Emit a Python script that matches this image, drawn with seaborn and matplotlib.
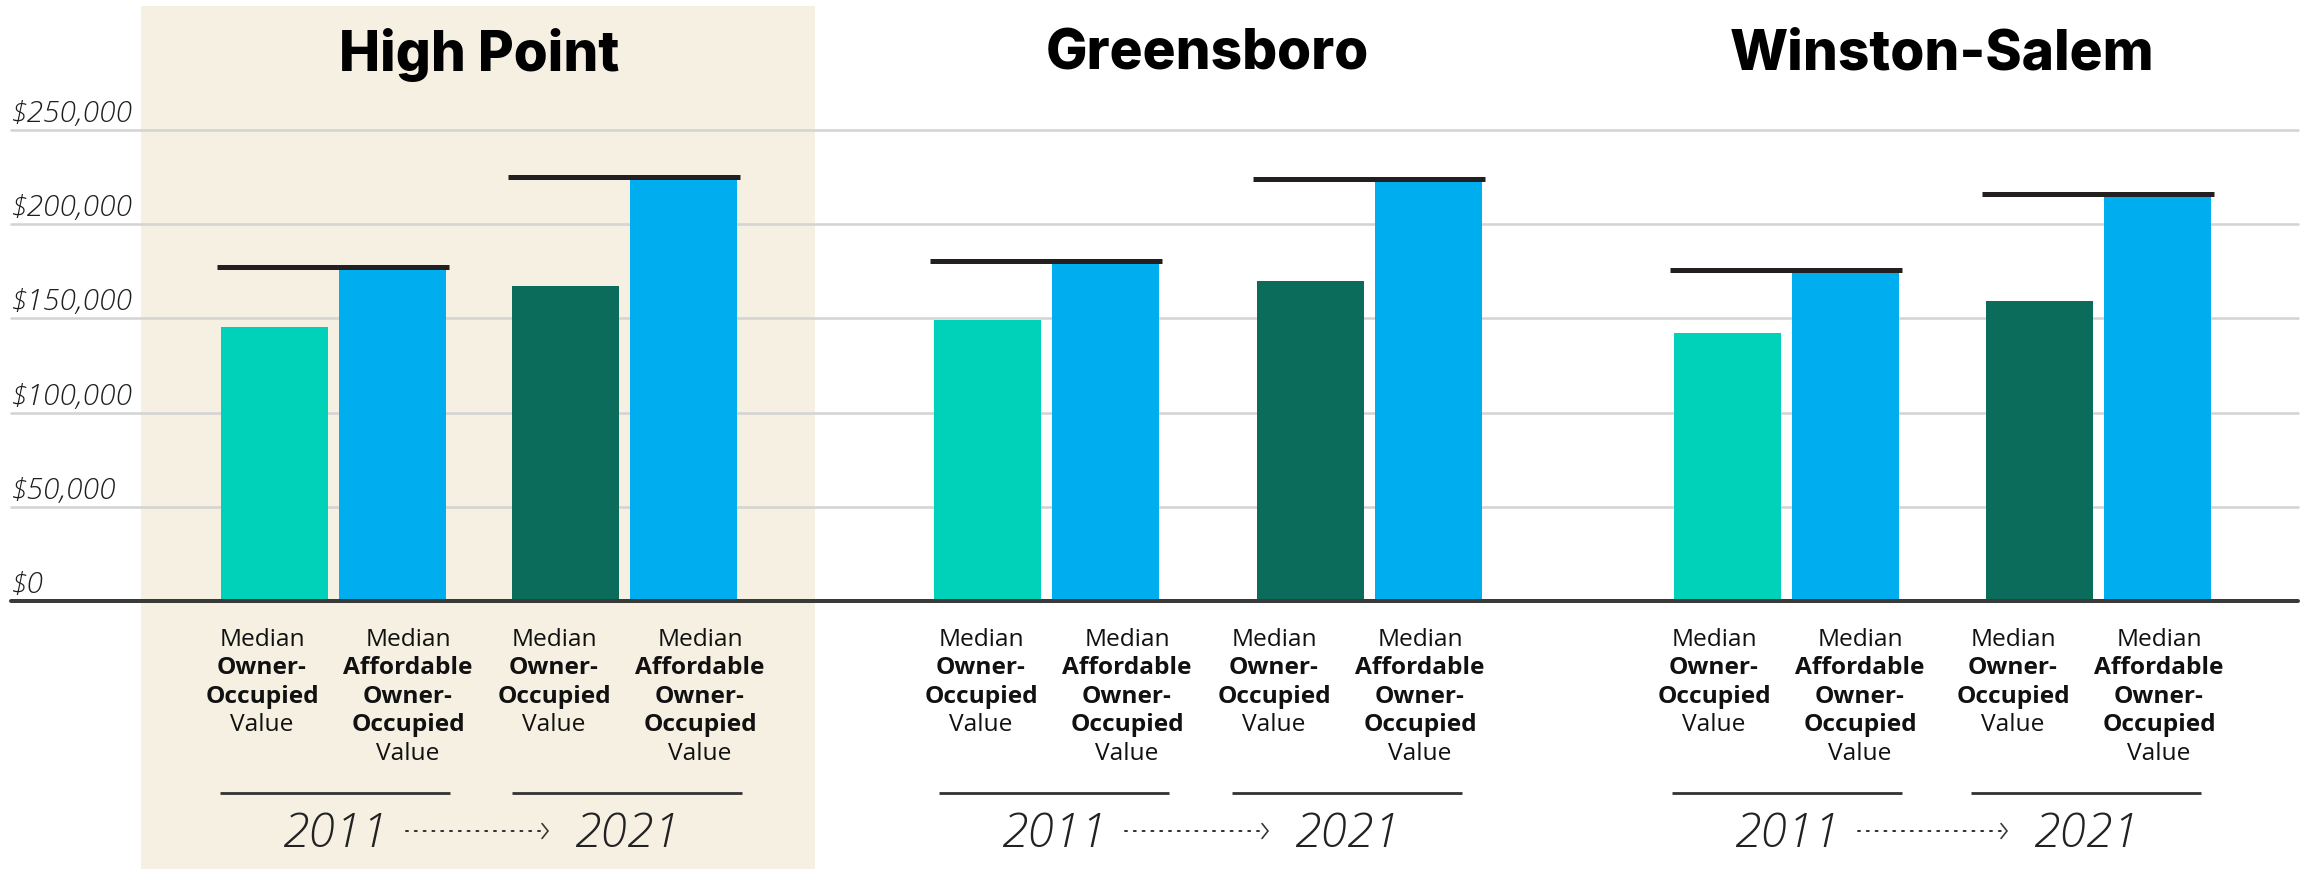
import matplotlib
matplotlib.use("Agg")
import matplotlib.pyplot as plt
from matplotlib.patches import Rectangle
import pandas as pd
import seaborn as sns

# ---- data -------------------------------------------------------------
cities = ["High Point", "Greensboro", "Winston-Salem"]
years = ["2011", "2021"]
owner_2011 = [145_400, 149_300, 142_200]
affordable_2011 = [177_500, 180_500, 175_500]
owner_2021 = [167_200, 169_800, 159_400]
affordable_2021 = [224_800, 224_200, 215_800]
y_ticks = [0, 50_000, 100_000, 150_000, 200_000, 250_000]
y_tick_labels = ["$0", "$50,000", "$100,000", "$150,000", "$200,000", "$250,000"]
owner_lines = ["Median", "Owner-", "Occupied", "Value"]
owner_bold = [False, True, True, False]
afford_lines = ["Median", "Affordable", "Owner-", "Occupied", "Value"]
afford_bold = [False, True, True, True, False]

# ---- style ------------------------------------------------------------
TEAL, BLUE, DARK = "#00D1B9", "#00AEEF", "#0C6C5B"
BEIGE, GRID, INK = "#F6F0E3", "#D4D4D4", "#231F20"
palette = {"owner 2011": TEAL, "affordable": BLUE, "owner 2021": DARK}

W, H, DPI = 2310, 871, 100
PT = 72 / DPI  # points per pixel

# layout in pixel units
bar_first = [274.5, 987.5, 1727]   # centre of the first bar of each city
pair_gap = [290.5, 322.5, 312]     # distance from first to third bar
bar_step = 118
bar_width = 107
label_pairs = [(335, 627), (1054, 1347), (1787, 2086)]
plot_left, plot_right, plot_top, plot_bottom = 11, 2298, 130, 601

sns.set_theme(style="white")
plt.rcParams["font.family"] = ["Open Sans", "DejaVu Sans"]

rows = []
for i, city in enumerate(cities):
    x0 = bar_first[i]
    rows += [
        dict(city=city, year=years[0], kind="owner 2011", x=x0, value=owner_2011[i]),
        dict(city=city, year=years[0], kind="affordable", x=x0 + bar_step, value=affordable_2011[i]),
        dict(city=city, year=years[1], kind="owner 2021", x=x0 + pair_gap[i], value=owner_2021[i]),
        dict(city=city, year=years[1], kind="affordable", x=x0 + pair_gap[i] + bar_step, value=affordable_2021[i]),
    ]
df = pd.DataFrame(rows)

fig = plt.figure(figsize=(W / DPI, H / DPI), dpi=DPI)
fig.patch.set_facecolor("white")

# background layer in pixel coordinates for panel, titles and captions
bg = fig.add_axes([0, 0, 1, 1], zorder=0)
bg.set_xlim(0, W)
bg.set_ylim(H, 0)
bg.axis("off")
bg.add_patch(Rectangle((141, 6), 674, 863, facecolor=BEIGE, edgecolor="none"))

# bar layer
ax = fig.add_axes([plot_left / W, (H - plot_bottom) / H,
                   (plot_right - plot_left) / W, (plot_bottom - plot_top) / H], zorder=1)
ax.patch.set_alpha(0)

for v in y_ticks[1:]:
    ax.axhline(v, color=GRID, lw=2.6 * PT, zorder=0, clip_on=False)

sns.barplot(data=df, x="x", y="value", hue="kind", palette=palette, native_scale=True,
            dodge=False, width=bar_width / bar_step, errorbar=None, saturation=1,
            linewidth=0, legend=False, ax=ax, zorder=2)

ax.set_xlim(plot_left, plot_right)
ax.set_ylim(0, 250_000)
ax.axhline(0, color="#3A3A3A", lw=4 * PT, zorder=5, clip_on=False)
ax.set_xticks([])
ax.set_yticks([])
ax.set_xlabel("")
ax.set_ylabel("")
sns.despine(ax=ax, left=True, bottom=True)

# y-axis labels sitting above each gridline
for v, lbl in zip(y_ticks, y_tick_labels):
    ax.annotate(lbl, xy=(0, v), xycoords=("axes fraction", "data"),
                xytext=(0, 8), textcoords="offset pixels", ha="left", va="baseline",
                fontsize=30 * PT, fontstyle="italic", fontweight="light", color="#1E1E1E")

# reference line at the affordable value spanning each year's pair of bars
for city, sub in df.groupby("city", sort=False):
    for yr, pair in sub.groupby("year"):
        owner = pair[pair["kind"] != "affordable"].iloc[0]
        aff = pair[pair["kind"] == "affordable"].iloc[0]
        ax.hlines(aff["value"], owner["x"] - bar_width / 2 - 4, aff["x"] + bar_width / 2 + 3,
                  color=INK, lw=5 * PT, zorder=6)

# city titles
for i, city in enumerate(cities):
    sub = df[df["city"] == city]
    cx = (sub["x"].min() + sub["x"].max()) / 2
    bg.text(cx, 55, city, ha="center", va="center", fontsize=55 * PT,
            fontweight="heavy", family=["Inter", "DejaVu Sans"], color="black")

# captions under bars, year rules, year labels and arrows
base0, step = 645.5, 28.6
cap_size = 24.5 * PT
for i, city in enumerate(cities):
    for j, yr in enumerate(years):
        c = label_pairs[i][j]
        for col_x, lines, bold in ((c - 73, owner_lines, owner_bold),
                                   (c + 73, afford_lines, afford_bold)):
            for k, (txt, b) in enumerate(zip(lines, bold)):
                bg.text(col_x, base0 + k * step, txt, ha="center", va="baseline",
                        fontsize=cap_size, fontweight="bold" if b else "normal",
                        color="#111111")
        bg.plot([c - 115, c + 115], [792.5, 792.5], color="#333333", lw=2.8 * PT,
                solid_capstyle="butt")
        bg.text(c, 847, yr, ha="center", va="baseline", fontsize=48 * PT,
                fontstyle="italic", fontweight="light", color="#222222")
    c1, c2 = label_pairs[i]
    x_start, x_end = c1 + 71, c2 - 79
    bg.plot([x_start, x_end - 3], [831, 831], color="#333333", lw=2 * PT,
            linestyle=(0, (1, 3.4)), dash_capstyle="round")
    bg.plot([x_end - 6, x_end, x_end - 6], [823.5, 831, 838.5], color="#333333",
            lw=1.6 * PT, solid_joinstyle="miter")

fig.savefig("out.png", dpi=DPI, facecolor="white")
